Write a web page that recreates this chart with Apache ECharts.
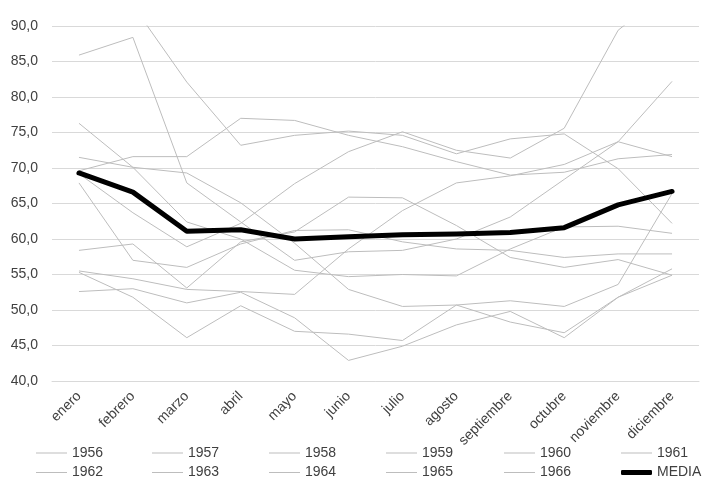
<!DOCTYPE html>
<html>
<head>
<meta charset="utf-8">
<script src="https://cdn.jsdelivr.net/npm/echarts@6/dist/echarts.min.js"></script>
<style>
  html, body { margin: 0; padding: 0; background: #fff; }
  #chart { width: 717px; height: 489px; }
</style>
</head>
<body>
<div id="chart"></div>
<script>
// meses del eje x
var meses = ['enero', 'febrero', 'marzo', 'abril', 'mayo', 'junio', 'julio',
  'agosto', 'septiembre', 'octubre', 'noviembre', 'diciembre'];

// valores (valores > 90 quedan recortados por el eje)
var y1956 = [85.9, 88.4, 67.9, 62.4, 57.0, 58.2, 58.4, 60.0, 63.1, 68.4, 73.7, 82.2];
var y1957 = [76.3, 70.1, 62.4, 60.0, 55.6, 54.7, 55.0, 54.8, 58.6, 61.7, 61.8, 60.8];
var y1958 = [71.5, 70.1, 69.3, 65.1, 59.4, 52.9, 50.5, 50.7, 51.3, 50.5, 53.6, 66.4];
var y1959 = [69.6, 71.6, 71.6, 77.0, 76.7, 74.6, 73.0, 70.9, 69.0, 69.4, 71.3, 71.9];
var y1960 = [69.2, 63.7, 58.9, 62.2, 67.8, 72.3, 75.1, 72.5, 71.4, 75.6, 89.4, 95.5];
var y1961 = [67.9, 57.0, 56.0, 59.3, 61.2, 61.3, 59.6, 58.6, 58.4, 57.4, 57.9, 57.9];
var y1962 = [58.4, 59.3, 53.1, 59.6, 61.0, 65.9, 65.8, 61.9, 57.4, 56.0, 57.1, 54.9];
var y1963 = [55.5, 54.4, 52.9, 52.6, 52.2, 58.6, 64.0, 67.9, 68.9, 70.5, 73.7, 71.6];
var y1964 = [55.3, 51.8, 46.1, 50.6, 47.0, 46.6, 45.7, 50.7, 48.3, 46.8, 51.8, 55.8];
var y1965 = [52.6, 53.0, 51.0, 52.5, 48.9, 42.9, 44.9, 47.9, 49.8, 46.1, 51.8, 54.9];
var y1966 = [99.0, 92.9, 82.1, 73.2, 74.6, 75.2, 74.6, 72.0, 74.1, 74.8, 69.9, 62.2];
var media = [69.3, 66.6, 61.1, 61.3, 60.0, 60.3, 60.6, 60.7, 60.9, 61.6, 64.8, 66.7];

var anios = ['1956', '1957', '1958', '1959', '1960', '1961', '1962', '1963', '1964', '1965', '1966'];
var valores = [y1956, y1957, y1958, y1959, y1960, y1961, y1962, y1963, y1964, y1965, y1966];
var nombres = anios.concat(['MEDIA']);

var chart = echarts.init(document.getElementById('chart'));

var series = [];
for (var i = 0; i < anios.length; i++) {
  series.push({
    name: anios[i],
    type: 'line',
    data: valores[i],
    symbol: 'none',
    lineStyle: { color: '#bdbdbd', width: 1 },
    itemStyle: { color: '#bdbdbd' },
    z: 2
  });
}
series.push({
  name: 'MEDIA',
  type: 'line',
  data: media,
  symbol: 'none',
  lineStyle: { color: '#000', width: 5, cap: 'round', join: 'round' },
  itemStyle: { color: '#000' },
  z: 5
});

// leyenda: 6 columnas x 2 filas, un componente por elemento
var colX = [71, 187, 304, 421, 539, 656];
var rowY = [453, 472.5];
var legends = [];
for (var k = 0; k < nombres.length; k++) {
  var esMedia = nombres[k] === 'MEDIA';
  legends.push({
    data: [nombres[k]],
    left: colX[k % 6] - 35,
    top: rowY[Math.floor(k / 6)] - 8,
    padding: 0,
    itemWidth: 31,
    itemHeight: esMedia ? 5 : 1,
    icon: esMedia ? 'roundRect' : 'rect',
    selectedMode: false,
    textStyle: { fontSize: 14, color: '#404040', lineHeight: 16 }
  });
}

var option = {
  animation: false,
  textStyle: { fontFamily: 'Liberation Sans, Arial, sans-serif' },
  grid: { left: 52, right: 18, top: 26, bottom: 108 },
  legend: legends,
  xAxis: {
    type: 'category',
    data: meses,
    boundaryGap: true,
    axisTick: { show: false },
    axisLine: { lineStyle: { color: '#d9d9d9' } },
    axisLabel: { rotate: 45, fontSize: 14, color: '#404040', margin: 13, interval: 0 }
  },
  yAxis: {
    type: 'value',
    min: 40,
    max: 90,
    interval: 5,
    axisLine: { show: false },
    axisTick: { show: false },
    splitLine: { lineStyle: { color: '#d9d9d9', width: 1 } },
    axisLabel: {
      fontSize: 14, color: '#404040', margin: 14,
      formatter: function (v) { return v.toFixed(1).replace('.', ','); }
    }
  },
  series: series
};

chart.setOption(option);
</script>
</body>
</html>
